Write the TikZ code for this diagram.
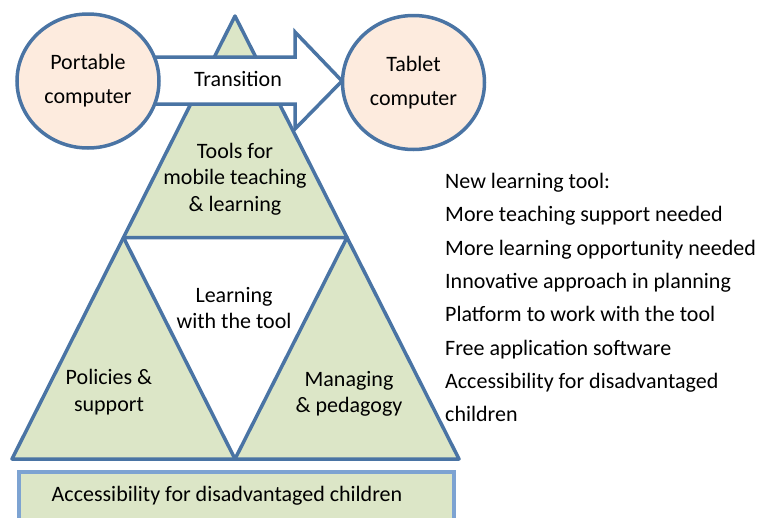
\documentclass[tikz,border=0pt]{standalone}
\usepackage{fontspec}
\setmainfont{Carlito}
\usetikzlibrary{shapes.geometric}
\definecolor{edge}{HTML}{4A74A4}
\definecolor{edgelight}{HTML}{7DA3D2}
\definecolor{leaf}{HTML}{DCE6C7}
\definecolor{peach}{HTML}{FDEBDE}
\begin{document}
\begin{tikzpicture}[x=1pt,y=-1pt,
  lbl/.style={font=\fontsize{22}{26.5}\selectfont,align=center,inner sep=0pt},
  lst/.style={font=\fontsize{22}{26}\selectfont,anchor=base west,inner sep=0pt},
  device/.style={ellipse,draw=edge,line width=3.5pt,fill=peach,minimum width=142pt,minimum height=134pt,inner sep=0pt,font=\fontsize{22}{34}\selectfont,align=center}]
\useasboundingbox (0,0) rectangle (758,517);
% triangle corners
\coordinate (A) at (235,16);
\coordinate (BL) at (12,459);
\coordinate (BR) at (459,459);
\coordinate (ML) at (123.5,237.5);
\coordinate (MR) at (347,237.5);
\coordinate (MB) at (235,459);
\fill[leaf] (A) -- (BL) -- (BR) -- cycle;
\fill[white] (ML) -- (MR) -- (MB) -- cycle;
\draw[edge,line width=3.5pt,line join=round] (A) -- (BL) -- (BR) -- cycle;
\draw[edge,line width=3.5pt,line join=round] (ML) -- (MR) -- (MB) -- cycle;
% bottom bar
\draw[edgelight,fill=leaf,line width=3.5pt] (19,472) rectangle (454,530);
\node[lbl] (acc) at (227,496) {Accessibility for disadvantaged children};
% transition arrow
\draw[edge,fill=white,line width=3.5pt,line join=miter]
  (140,57) -- (295,57) -- (295,32) -- (342,81) -- (295,129) -- (295,104) -- (140,104) -- cycle;
\node[lbl] (tr) at (238,79) {Transition};
% devices
\node[device] (pc) at (88,81) {Portable\\computer};
\node[device] (tab) at (413.5,82.5) {Tablet\\computer};
% triangle labels
\node[lbl] (tools) at (235,179) {Tools for\\mobile teaching\\\& learning};
\node[lbl] (learn) at (234,308) {Learning\\with the tool};
\node[lbl] (pol) at (109,392) {Policies \&\\support};
\node[lbl] (man) at (349,394) {Managing\\\& pedagogy};
% list
\node[lst] (l1) at (445,188) {New learning tool:};
\node[lst] (l2) at (445,221.5) {More teaching support needed};
\node[lst] (l3) at (445,255) {More learning opportunity needed};
\node[lst] (l4) at (445,288) {Innovative approach in planning};
\node[lst] (l5) at (445,321.5) {Platform to work with the tool};
\node[lst] (l6) at (445,355) {Free application software};
\node[lst] (l7) at (445,388) {Accessibility for disadvantaged};
\node[lst] (l8) at (445,421.5) {children};
\end{tikzpicture}
\end{document}
